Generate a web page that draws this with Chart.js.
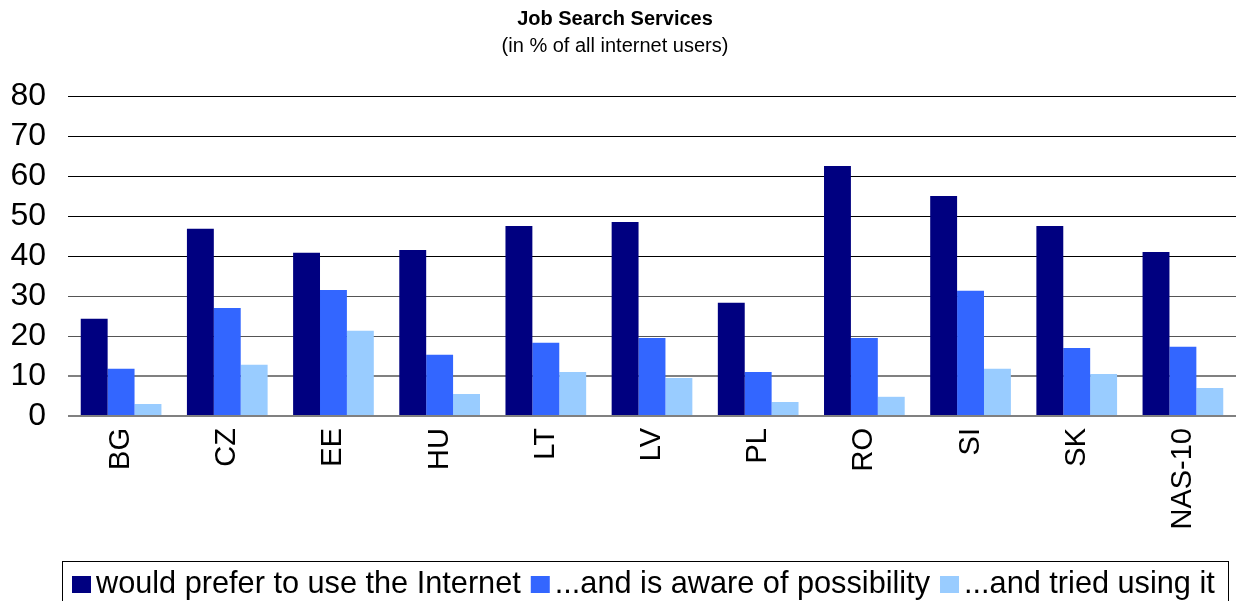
<!DOCTYPE html>
<html>
<head>
<meta charset="utf-8">
<script src="https://cdn.jsdelivr.net/npm/chart.js@4/dist/chart.umd.min.js"></script>
<style>
  html, body { margin: 0; padding: 0; background: #ffffff; }
  #wrap { width: 1236px; height: 601px; }
</style>
</head>
<body>
<div id="wrap"><canvas id="c" width="1236" height="601"></canvas></div>
<script>
// Countries and the three survey series (percent of all internet users)
const categories = ['BG', 'CZ', 'EE', 'HU', 'LT', 'LV', 'PL', 'RO', 'SI', 'SK', 'NAS-10'];
const preferInternet     = [24.3, 46.8, 40.8, 41.5, 47.5, 48.5, 28.3, 62.5, 55.0, 47.5, 41.0];
const awareOfPossibility = [11.8, 27.0, 31.5, 15.3, 18.3, 19.5, 11.0, 19.5, 31.3, 17.0, 17.3];
const triedUsing         = [3.0, 12.8, 21.3, 5.5, 11.0, 9.5, 3.5, 4.8, 11.8, 10.5, 7.0];
const seriesNames = ['would prefer to use the Internet', '...and is aware of possibility', '...and tried using it'];
const yTicks = [0, 10, 20, 30, 40, 50, 60, 70, 80];
const titleText = 'Job Search Services';
const subtitleText = '(in % of all internet users)';

const FONT = '"Liberation Sans", Arial, Helvetica, sans-serif';
const colors = ['#000080', '#3366FF', '#99CCFF'];

// Title and subtitle, centred over the canvas
const headingPlugin = {
  id: 'heading',
  afterDraw(chart) {
    const ctx = chart.ctx;
    const cx = 615;
    ctx.save();
    ctx.fillStyle = '#000';
    ctx.textAlign = 'center';
    ctx.textBaseline = 'alphabetic';
    ctx.font = 'bold 20px ' + FONT;
    ctx.fillText(titleText, cx, 25);
    ctx.font = '20px ' + FONT;
    ctx.fillText(subtitleText, cx, 52);
    ctx.restore();
  }
};

// Framed legend row along the bottom edge
const framedLegendPlugin = {
  id: 'framedLegend',
  afterDraw(chart) {
    const ctx = chart.ctx;
    const frame = { left: 62, top: 561, right: 1228, bottom: 640 };
    ctx.save();
    ctx.strokeStyle = '#000';
    ctx.lineWidth = 1;
    ctx.strokeRect(frame.left + 0.5, frame.top + 0.5, frame.right - frame.left, frame.bottom - frame.top);
    ctx.font = '30.7px ' + FONT;
    ctx.textBaseline = 'middle';
    ctx.textAlign = 'left';
    let x = frame.left + 10;
    const midY = 584;
    chart.data.datasets.forEach((ds) => {
      ctx.fillStyle = ds.backgroundColor;
      ctx.fillRect(x, midY - 8, 19, 17);
      x += 24;
      ctx.fillStyle = '#000';
      ctx.fillText(ds.label, x, midY + 1);
      x += ctx.measureText(ds.label).width + 10;
    });
    ctx.restore();
  }
};

function gridColor(ctx) {
  const v = ctx.tick ? ctx.tick.value : 0;
  if (v >= 40) return '#000000';
  if (v >= 20) return '#555555';
  return '#808080';
}
function gridWidth(ctx) {
  const v = ctx.tick ? ctx.tick.value : 0;
  return v <= 10 ? 2 : 1;
}

new Chart(document.getElementById('c'), {
  type: 'bar',
  data: {
    labels: categories,
    datasets: [
      { label: seriesNames[0], data: preferInternet, backgroundColor: colors[0] },
      { label: seriesNames[1], data: awareOfPossibility, backgroundColor: colors[1] },
      { label: seriesNames[2], data: triedUsing, backgroundColor: colors[2] }
    ]
  },
  options: {
    responsive: false,
    animation: false,
    devicePixelRatio: 1,
    layout: { padding: { top: 96, left: 0, right: 0, bottom: 55 } },
    datasets: {
      bar: { categoryPercentage: 0.76, barPercentage: 1.0, borderWidth: 0 }
    },
    plugins: {
      legend: { display: false },
      title: { display: false },
      tooltip: { enabled: false }
    },
    scales: {
      x: {
        afterFit(scale) { scale.height = 130; },
        grid: { display: false },
        border: { display: false },
        ticks: {
          maxRotation: 90,
          minRotation: 90,
          autoSkip: false,
          padding: 4,
          color: '#000',
          font: { family: FONT, size: 29 }
        }
      },
      y: {
        min: 0,
        max: 80,
        afterFit(scale) { scale.width = 68; },
        afterBuildTicks(scale) { scale.ticks = yTicks.map(v => ({ value: v })); },
        border: { display: false },
        grid: { color: gridColor, lineWidth: gridWidth, drawTicks: false },
        ticks: {
          autoSkip: false,
          padding: 22,
          color: '#000',
          font: { family: FONT, size: 32 }
        }
      }
    }
  },
  plugins: [headingPlugin, framedLegendPlugin]
});
</script>
</body>
</html>
